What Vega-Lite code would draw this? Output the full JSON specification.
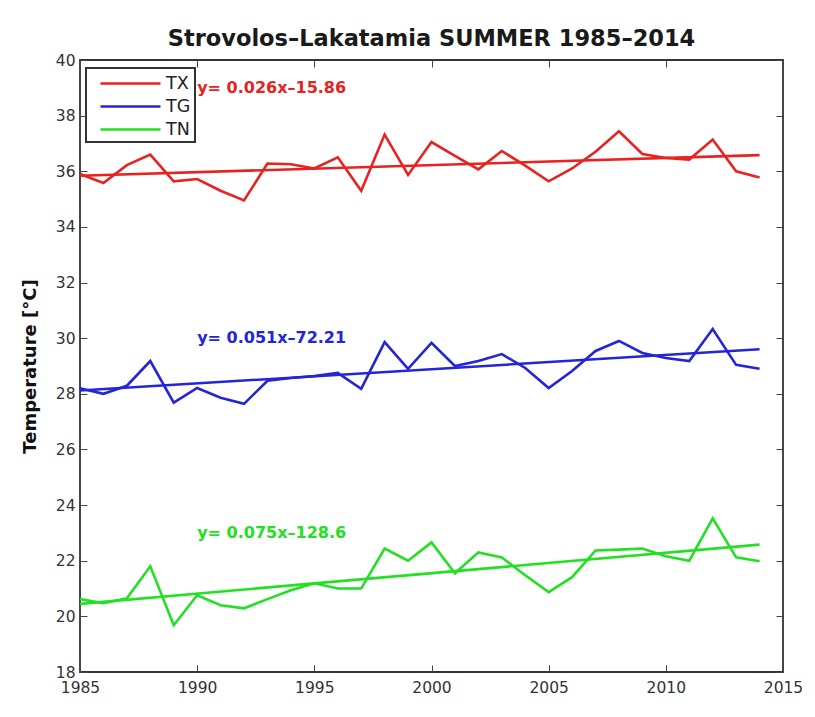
{
  "$schema": "https://vega.github.io/schema/vega-lite/v6.json",
  "width": 703,
  "height": 612,
  "autosize": {"type": "none"},
  "padding": {"left": 80, "top": 60, "right": 32, "bottom": 45},
  "background": "white",
  "title": {"text": "Strovolos–Lakatamia SUMMER 1985–2014", "fontSize": 22.5, "font": "DejaVu Sans", "fontWeight": "bold", "color": "#1a1a1a", "offset": 3},
  "config": {"view": {"stroke": "#333", "strokeWidth": 1.8}, "font": "DejaVu Sans", "legend": {"strokeWidth": 2}},
  "datasets": {
    "obs": [
      {"year": 1985, "series": "TX", "temp": 35.9}, {"year": 1986, "series": "TX", "temp": 35.58}, {"year": 1987, "series": "TX", "temp": 36.22},
      {"year": 1988, "series": "TX", "temp": 36.6}, {"year": 1989, "series": "TX", "temp": 35.64}, {"year": 1990, "series": "TX", "temp": 35.72},
      {"year": 1991, "series": "TX", "temp": 35.3}, {"year": 1992, "series": "TX", "temp": 34.95}, {"year": 1993, "series": "TX", "temp": 36.28},
      {"year": 1994, "series": "TX", "temp": 36.25}, {"year": 1995, "series": "TX", "temp": 36.1}, {"year": 1996, "series": "TX", "temp": 36.5},
      {"year": 1997, "series": "TX", "temp": 35.3}, {"year": 1998, "series": "TX", "temp": 37.32}, {"year": 1999, "series": "TX", "temp": 35.87},
      {"year": 2000, "series": "TX", "temp": 37.05}, {"year": 2001, "series": "TX", "temp": 36.55}, {"year": 2002, "series": "TX", "temp": 36.07},
      {"year": 2003, "series": "TX", "temp": 36.73}, {"year": 2004, "series": "TX", "temp": 36.2}, {"year": 2005, "series": "TX", "temp": 35.64},
      {"year": 2006, "series": "TX", "temp": 36.1}, {"year": 2007, "series": "TX", "temp": 36.7}, {"year": 2008, "series": "TX", "temp": 37.44},
      {"year": 2009, "series": "TX", "temp": 36.62}, {"year": 2010, "series": "TX", "temp": 36.48}, {"year": 2011, "series": "TX", "temp": 36.42},
      {"year": 2012, "series": "TX", "temp": 37.14}, {"year": 2013, "series": "TX", "temp": 36.0}, {"year": 2014, "series": "TX", "temp": 35.78},
      {"year": 1985, "series": "TG", "temp": 28.2}, {"year": 1986, "series": "TG", "temp": 28.0}, {"year": 1987, "series": "TG", "temp": 28.29},
      {"year": 1988, "series": "TG", "temp": 29.18}, {"year": 1989, "series": "TG", "temp": 27.68}, {"year": 1990, "series": "TG", "temp": 28.21},
      {"year": 1991, "series": "TG", "temp": 27.86}, {"year": 1992, "series": "TG", "temp": 27.64}, {"year": 1993, "series": "TG", "temp": 28.47},
      {"year": 1994, "series": "TG", "temp": 28.57}, {"year": 1995, "series": "TG", "temp": 28.64}, {"year": 1996, "series": "TG", "temp": 28.75},
      {"year": 1997, "series": "TG", "temp": 28.18}, {"year": 1998, "series": "TG", "temp": 29.86}, {"year": 1999, "series": "TG", "temp": 28.9},
      {"year": 2000, "series": "TG", "temp": 29.83}, {"year": 2001, "series": "TG", "temp": 29.0}, {"year": 2002, "series": "TG", "temp": 29.18},
      {"year": 2003, "series": "TG", "temp": 29.43}, {"year": 2004, "series": "TG", "temp": 28.93}, {"year": 2005, "series": "TG", "temp": 28.21},
      {"year": 2006, "series": "TG", "temp": 28.82}, {"year": 2007, "series": "TG", "temp": 29.54}, {"year": 2008, "series": "TG", "temp": 29.9},
      {"year": 2009, "series": "TG", "temp": 29.47}, {"year": 2010, "series": "TG", "temp": 29.29}, {"year": 2011, "series": "TG", "temp": 29.18},
      {"year": 2012, "series": "TG", "temp": 30.33}, {"year": 2013, "series": "TG", "temp": 29.04}, {"year": 2014, "series": "TG", "temp": 28.9},
      {"year": 1985, "series": "TN", "temp": 20.62}, {"year": 1986, "series": "TN", "temp": 20.47}, {"year": 1987, "series": "TN", "temp": 20.65},
      {"year": 1988, "series": "TN", "temp": 21.8}, {"year": 1989, "series": "TN", "temp": 19.68}, {"year": 1990, "series": "TN", "temp": 20.76},
      {"year": 1991, "series": "TN", "temp": 20.4}, {"year": 1992, "series": "TN", "temp": 20.29}, {"year": 1993, "series": "TN", "temp": 20.62},
      {"year": 1994, "series": "TN", "temp": 20.94}, {"year": 1995, "series": "TN", "temp": 21.19}, {"year": 1996, "series": "TN", "temp": 21.0},
      {"year": 1997, "series": "TN", "temp": 21.0}, {"year": 1998, "series": "TN", "temp": 22.44}, {"year": 1999, "series": "TN", "temp": 22.0},
      {"year": 2000, "series": "TN", "temp": 22.66}, {"year": 2001, "series": "TN", "temp": 21.55}, {"year": 2002, "series": "TN", "temp": 22.3},
      {"year": 2003, "series": "TN", "temp": 22.12}, {"year": 2004, "series": "TN", "temp": 21.48}, {"year": 2005, "series": "TN", "temp": 20.87},
      {"year": 2006, "series": "TN", "temp": 21.41}, {"year": 2007, "series": "TN", "temp": 22.37}, {"year": 2008, "series": "TN", "temp": 22.4},
      {"year": 2009, "series": "TN", "temp": 22.44}, {"year": 2010, "series": "TN", "temp": 22.16}, {"year": 2011, "series": "TN", "temp": 22.0},
      {"year": 2012, "series": "TN", "temp": 23.52}, {"year": 2013, "series": "TN", "temp": 22.12}, {"year": 2014, "series": "TN", "temp": 21.98}
    ],
    "trend": [
      {"year": 1985, "series": "TX", "temp": 35.84}, {"year": 2014, "series": "TX", "temp": 36.58},
      {"year": 1985, "series": "TG", "temp": 28.12}, {"year": 2014, "series": "TG", "temp": 29.6},
      {"year": 1985, "series": "TN", "temp": 20.45}, {"year": 2014, "series": "TN", "temp": 22.58}
    ],
    "labels": [
      {"year": 1990, "temp": 39.0, "series": "TX", "text": "y= 0.026x–15.86"},
      {"year": 1990, "temp": 30.0, "series": "TG", "text": "y= 0.051x–72.21"},
      {"year": 1990, "temp": 23.0, "series": "TN", "text": "y= 0.075x–128.6"}
    ]
  },
  "layer": [
    {
      "data": {"name": "obs"},
      "mark": {"type": "line", "strokeWidth": 2.6},
      "encoding": {
        "x": {"field": "year", "type": "quantitative", "scale": {"domain": [1985, 2015], "nice": false, "zero": false},
          "axis": {"orient": "bottom", "title": null, "values": [1985, 1990, 1995, 2000, 2005, 2010, 2015], "format": "d", "grid": false, "domain": false,
            "tickSize": -7, "tickColor": "#444", "labelFontSize": 15.5, "labelColor": "#333", "labelPadding": 15, "labelFlush": false}},
        "y": {"field": "temp", "type": "quantitative", "scale": {"domain": [18, 40], "nice": false, "zero": false},
          "axis": {"orient": "left", "title": "Temperature [°C]", "titleFontSize": 18, "titleFontWeight": "bold", "titleColor": "#111", "titlePadding": 16,
            "values": [18, 20, 22, 24, 26, 28, 30, 32, 34, 36, 38, 40], "grid": false, "domain": false,
            "tickSize": -7, "tickColor": "#444", "labelFontSize": 15.5, "labelColor": "#333", "labelPadding": 12}},
        "color": {"field": "series", "type": "nominal",
          "scale": {"domain": ["TX", "TG", "TN"], "range": ["#e8221f", "#2424d8", "#22e022"]},
          "legend": {"title": null, "orient": "none", "legendX": 6, "legendY": 8, "symbolType": "M-0.1,0H5.9", "symbolSize": 400, "symbolStrokeWidth": 2.6,
            "labelFontSize": 17.5, "labelColor": "#222", "strokeColor": "#333", "fillColor": "white", "padding": 4, "rowPadding": 3, "labelOffset": 53}}
      }
    },
    {
      "data": {"name": "trend"},
      "mark": {"type": "line", "strokeWidth": 2.6},
      "encoding": {
        "x": {"field": "year", "type": "quantitative",
          "axis": {"orient": "top", "title": null, "labels": false, "values": [1985, 1990, 1995, 2000, 2005, 2010, 2015], "grid": false, "domain": false, "tickSize": -7, "tickColor": "#444"}},
        "y": {"field": "temp", "type": "quantitative",
          "axis": {"orient": "right", "title": null, "labels": false, "values": [18, 20, 22, 24, 26, 28, 30, 32, 34, 36, 38, 40], "grid": false, "domain": false, "tickSize": -7, "tickColor": "#444"}},
        "color": {"field": "series", "type": "nominal", "legend": null}
      }
    },
    {
      "data": {"name": "labels"},
      "mark": {"type": "text", "align": "left", "baseline": "middle", "fontSize": 16, "fontWeight": "bold", "font": "DejaVu Sans"},
      "encoding": {
        "x": {"field": "year", "type": "quantitative", "axis": null},
        "y": {"field": "temp", "type": "quantitative", "axis": null},
        "text": {"field": "text"},
        "color": {"field": "series", "type": "nominal", "legend": null}
      }
    }
  ],
  "resolve": {"axis": {"x": "independent", "y": "independent"}}
}
